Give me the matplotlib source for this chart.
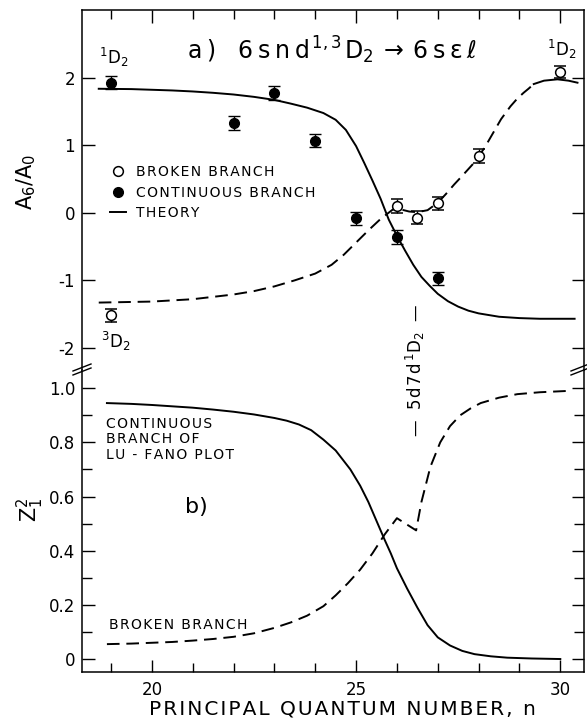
import matplotlib
matplotlib.use('Agg')
import matplotlib.pyplot as plt
from matplotlib.lines import Line2D
from matplotlib.ticker import MultipleLocator, FixedLocator, FuncFormatter

plt.rcParams['font.family'] = 'DejaVu Sans'
plt.rcParams['mathtext.default'] = 'regular'
plt.rcParams['axes.unicode_minus'] = False

# a) measured asymmetry A6/A0
n_cont = [19, 22, 23, 24, 25, 26, 27]
a_cont = [1.93, 1.33, 1.78, 1.07, -0.08, -0.36, -0.97]
err_cont = [0.1, 0.1, 0.1, 0.1, 0.1, 0.1, 0.1]

n_brok = [19, 26, 26.5, 27, 28, 30]
a_brok = [-1.52, 0.10, -0.07, 0.14, 0.84, 2.09]
err_brok = [0.1, 0.1, 0.1, 0.1, 0.1, 0.09]

# a) theory curves
th_cont_n = [18.7, 19.5, 20, 20.5, 21, 21.5, 22, 22.5, 23, 23.4, 23.8, 24.2, 24.5, 24.75,
             25.0, 25.2, 25.4, 25.6, 25.8, 26.0, 26.2, 26.4, 26.6, 26.8, 27.0, 27.25,
             27.5, 27.75, 28, 28.5, 29, 29.5, 30, 30.35]
th_cont_a = [1.84, 1.835, 1.825, 1.815, 1.80, 1.78, 1.755, 1.72, 1.675, 1.62, 1.56, 1.48,
             1.38, 1.23, 0.99, 0.74, 0.48, 0.21, -0.10, -0.34, -0.56, -0.77, -0.95, -1.08,
             -1.20, -1.31, -1.39, -1.45, -1.49, -1.54, -1.56, -1.57, -1.57, -1.57]

th_brok_n = [18.7, 20, 21, 22, 22.5, 23, 23.5, 24, 24.4, 24.7, 25.0, 25.3, 25.6, 25.9,
             26.1, 26.3, 26.5, 26.75, 27.0, 27.2, 27.4, 27.6, 27.9, 28.15, 28.35, 28.55,
             28.78, 28.94, 29.1, 29.22, 29.35]
th_brok_a = [-1.33, -1.315, -1.28, -1.21, -1.16, -1.09, -1.0, -0.90, -0.77, -0.62, -0.44,
             -0.26, -0.09, 0.05, 0.05, 0.02, 0.01, 0.04, 0.15, 0.28, 0.42, 0.55, 0.75,
             0.97, 1.18, 1.39, 1.58, 1.69, 1.78, 1.84, 1.91]
th_top_n = [29.35, 29.6, 29.93, 30.2, 30.42]
th_top_a = [1.91, 1.96, 1.98, 1.96, 1.93]

# b) Z1^2
z_cont_n = [18.9, 19.5, 20, 20.5, 21, 21.5, 22, 22.5, 23, 23.3, 23.6, 23.9, 24.2, 24.5,
            24.86, 25.1, 25.3, 25.5, 25.7, 25.85, 26.0, 26.25, 26.5, 26.75, 27.0, 27.3,
            27.6, 27.9, 28.3, 28.7, 29.3, 30.0]
z_cont_v = [0.945, 0.942, 0.938, 0.933, 0.928, 0.921, 0.913, 0.903, 0.89, 0.88, 0.866,
            0.845, 0.81, 0.77, 0.70, 0.64, 0.58, 0.51, 0.44, 0.39, 0.335, 0.26, 0.19,
            0.125, 0.08, 0.05, 0.03, 0.018, 0.01, 0.005, 0.002, 0.0]

z_brok_n = [18.9, 19.5, 20, 20.5, 21, 21.5, 22, 22.5, 23, 23.4, 23.8, 24.2, 24.5, 24.8,
            25.1, 25.4, 25.7, 26.0, 26.47, 26.6, 26.82, 27.06, 27.3, 27.55, 27.8, 28.05,
            28.5, 28.95, 29.5, 30.2]
z_brok_v = [0.055, 0.057, 0.06, 0.063, 0.068, 0.074, 0.082, 0.095, 0.115, 0.135, 0.16,
            0.195, 0.235, 0.28, 0.33, 0.39, 0.46, 0.52, 0.475, 0.58, 0.71, 0.80, 0.86,
            0.90, 0.925, 0.945, 0.965, 0.978, 0.985, 0.99]

H = '\u200a'  # hair space, for the wide lettering of the original


def spaced(s, sep=H):
    return sep.join(s)


fig = plt.figure(figsize=(5.87, 7.23), dpi=100)
ax1 = fig.add_axes([0.1397, 0.4882, 0.8552, 0.4979])
ax2 = fig.add_axes([0.1397, 0.0705, 0.8552, 0.4177], sharex=ax1)

lw = 1.4
dash = (6.5, 3.5)

# top panel
ax1.plot(th_cont_n, th_cont_a, color='black', lw=lw)
ax1.plot(th_brok_n, th_brok_a, color='black', lw=lw, dashes=dash)
ax1.plot(th_top_n, th_top_a, color='black', lw=lw)
ax1.errorbar(n_cont, a_cont, yerr=err_cont, fmt='o', color='black', ms=7,
             capsize=4.5, elinewidth=1, capthick=1)
ax1.errorbar(n_brok, a_brok, yerr=err_brok, fmt='o', color='black', mfc='white',
             mec='black', mew=1.1, ms=7, capsize=4.5, elinewidth=1, capthick=1)

ax1.set_xlim(18.29, 30.58)
ax1.set_ylim(-2.33, 3.007)
ax1.yaxis.set_major_locator(FixedLocator([-2, -1, 0, 1, 2]))
ax1.spines['bottom'].set_visible(False)
ax1.xaxis.set_minor_locator(MultipleLocator(1))
ax1.tick_params(axis='x', which='both', bottom=False, labelbottom=False, top=True,
                direction='in', width=1)
ax1.tick_params(axis='x', which='major', length=9)
ax1.tick_params(axis='x', which='minor', length=6.5)
ax1.tick_params(axis='y', direction='in', left=True, right=True, length=9, width=1,
                labelsize=12, pad=5)

HH = H + H
title = (spaced('a)', HH) + '   ' + spaced('6snd', HH) + H + r'$^{1,3}$' + H + 'D$_2$' +
         HH + r'$\rightarrow$' + HH + spaced('6s', HH) + HH + r'$\epsilon$' + HH + r'$\ell$')
ax1.text(24.40, 2.41, title, ha='center', va='center', fontsize=17)
ax1.text(19.07, 2.31, r'$^1$D$_2$', ha='center', va='center', fontsize=12)
ax1.text(30.03, 2.43, r'$^1$D$_2$', ha='center', va='center', fontsize=12)
ax1.text(19.12, -1.91, r'$^3$D$_2$', ha='center', va='center', fontsize=12)

handles = [
    Line2D([], [], ls='none', marker='o', mfc='white', mec='black', ms=7, mew=1.1),
    Line2D([], [], ls='none', marker='o', color='black', ms=7),
    Line2D([], [], color='black', lw=lw),
]
labels = [spaced('BROKEN BRANCH'), spaced('CONTINUOUS BRANCH'), spaced('THEORY')]
ax1.legend(handles, labels, loc='upper left', bbox_to_anchor=(0.055, 0.569),
           frameon=False, fontsize=10, handlelength=1.2, handletextpad=0.7,
           labelspacing=0.46, borderpad=0, borderaxespad=0)

# bottom panel
ax2.plot(z_cont_n, z_cont_v, color='black', lw=lw)
ax2.plot(z_brok_n, z_brok_v, color='black', lw=lw, dashes=dash)
ax2.set_ylim(-0.048, 1.067)
ax2.spines['top'].set_visible(False)
ax2.xaxis.set_major_locator(MultipleLocator(5))
ax2.xaxis.set_minor_locator(MultipleLocator(1))
ax2.yaxis.set_major_locator(MultipleLocator(0.2))
ax2.yaxis.set_minor_locator(MultipleLocator(0.1))
ax2.yaxis.set_major_formatter(FuncFormatter(lambda v, p: '0' if abs(v) < 1e-9 else f'{v:.1f}'))
ax2.tick_params(axis='x', which='major', direction='in', top=False, length=9, width=1,
                labelsize=12, pad=6.5)
ax2.tick_params(axis='x', which='minor', direction='in', top=False, length=6.5, width=1)
ax2.tick_params(axis='y', which='major', direction='in', left=True, right=True,
                length=9, width=1, labelsize=12, pad=5)
ax2.tick_params(axis='y', which='minor', direction='in', left=True, right=True,
                length=7, width=1)

for ax in (ax1, ax2):
    for s in ax.spines.values():
        s.set_linewidth(1.1)

lufano = '\n'.join(spaced(t) for t in ['CONTINUOUS', 'BRANCH OF', 'LU - FANO PLOT'])
ax2.text(18.88, 0.811, lufano, ha='left', va='center', fontsize=10, linespacing=1.12)
ax2.text(21.1, 0.56, 'b)', ha='center', va='center', fontsize=16)
ax2.text(18.95, 0.124, spaced('BROKEN BRANCH'), ha='left', va='center', fontsize=10)

# axis break marks
for x0 in (82, 580):
    for dy in (0, 4):
        fig.add_artist(Line2D([x0 - 9, x0 + 9], [723 - 375 + dy, 723 - 368 + dy],
                              transform=None, color='black', lw=1))

fig.text(0.707, 0.488, '—  ' + spaced('5d7d') + H + r'$^1$D$_2$  —', rotation=90,
         ha='center', va='center', fontsize=12)
fig.text(0.044, 0.748, r'A$_6$/A$_0$', rotation=90, ha='center', va='center', fontsize=15)
fig.text(0.051, 0.295, r'Z$_1^2$', rotation=90, ha='center', va='center', fontsize=15)
fig.text(0.5835, 0.0195, spaced('PRINCIPAL QUANTUM NUMBER, n'), ha='center',
         va='center', fontsize=14.5)

fig.savefig('out.png', dpi=100)
